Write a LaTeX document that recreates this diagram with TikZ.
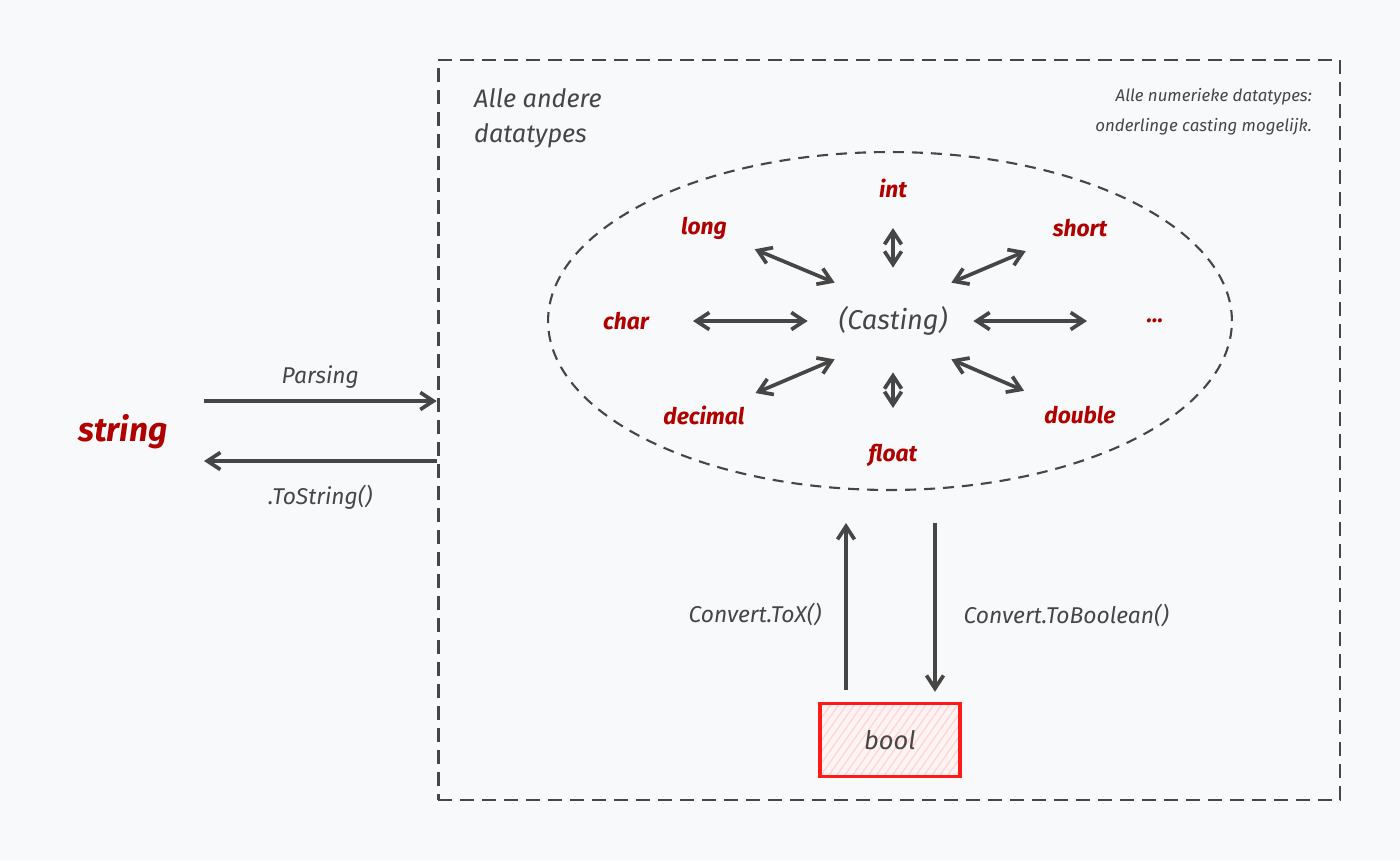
\documentclass[tikz,border=0pt]{standalone}
\usepackage{fontspec}
\setmainfont{Fira Sans}
\usetikzlibrary{arrows.meta,shapes.geometric,patterns.meta}
\definecolor{ink}{HTML}{464646}
\definecolor{typered}{HTML}{B00000}
\definecolor{paper}{HTML}{F8F9FA}
\definecolor{boolred}{HTML}{FF1A1A}
\definecolor{boolfill}{HTML}{FFF3F3}
\definecolor{hatch}{HTML}{FFD6D6}
\tikzset{
  arr/.style={->, ink, line width=2.1pt},
  dbl/.style={<->, ink, line width=2.1pt},
  typelabel/.style={typered, font=\fontsize{13}{16}\selectfont\bfseries\itshape},
  note/.style={text=ink, font=\fontsize{13}{16}\selectfont\itshape},
}

\begin{document}
\begin{tikzpicture}[x=0.02cm, y=-0.02cm, >={Straight Barb[length=2.6mm,width=3.4mm]}]
        \fill[paper] (0,0) rectangle (1400,860);
        \node[draw=ink, line width=1.6pt, dash pattern=on 2.8mm off 1.6mm, minimum width=18.04cm, minimum height=14.8cm] (others) at (889,430) {};
        \node[ellipse, draw=ink, line width=1.2pt, dash pattern=on 2.2mm off 1.6mm, minimum width=13.68cm, minimum height=6.76cm] (numeric) at (890,321) {};
        \node[note, font=\fontsize{14.4}{20}\selectfont\itshape, align=left, anchor=west] (otherslabel) at (468,118) {Alle andere\\datatypes};
        \node[note, font=\fontsize{9.6}{17}\selectfont\itshape, align=right, anchor=east] (numericlabel) at (1318,112) {Alle numerieke datatypes:\\onderlinge casting mogelijk.};
        \node[text=ink, font=\fontsize{15.5}{18}\selectfont\itshape, minimum width=2.32cm, minimum height=1.52cm, inner sep=0] (casting) at (893,321) {(Casting)};
        \node[typelabel] (int) at (893,188) {int};
        \node[typelabel] (long) at (704,228) {long};
        \node[typelabel] (short) at (1080,228) {short};
        \node[typelabel] (char) at (626,321) {char};
        \node[typelabel] (dots) at (1155,321) {...};
        \node[typelabel] (decimal) at (704,415) {decimal};
        \node[typelabel] (double) at (1080,415) {double};
        \node[typelabel] (float) at (893,455) {float};
        \draw[dbl, shorten <=8mm, shorten >=3mm] (int.center) -- (casting.north);
        \draw[dbl, shorten <=11mm] (long.center) -- (casting.north west);
        \draw[dbl, shorten <=11.8mm] (short.center) -- (casting.north east);
        \draw[dbl, shorten <=13.4mm, shorten >=5.4mm] (char.center) -- (casting.west);
        \draw[dbl, shorten <=13.6mm, shorten >=4.4mm] (dots.center) -- (casting.east);
        \draw[dbl, shorten <=11.2mm] (decimal.center) -- (casting.south west);
        \draw[dbl, shorten <=12.2mm] (double.center) -- (casting.south east);
        \draw[dbl, shorten <=9.4mm, shorten >=2.6mm] (float.center) -- (casting.south);
        \node[typered, font=\fontsize{19}{22}\selectfont\bfseries\itshape] (string) at (123,432) {string};
        \coordinate (parseL) at (204,401);
        \coordinate (tostrL) at (204,461);
        \draw[arr] (parseL) -- (parseL -| others.west) node[midway, above=1mm, note] {Parsing};
        \draw[arr] (tostrL -| others.west) -- (tostrL) node[midway, below=3.2mm, note] {.ToString()};
        \node[draw=boolred, line width=1.8pt, preaction={fill=boolfill}, pattern={Lines[angle=55, distance=1.3mm, line width=0.8pt]}, pattern color=hatch, minimum width=2.8cm, minimum height=1.46cm, text=ink, font=\fontsize{14.5}{17}\selectfont\itshape] (bool) at (890,740) {bool};
        \draw[arr] ([shift={(-44,-13)}]bool.north) -- ([shift={(-44,32)}]numeric.south) node[pos=0.45, left=3.4mm, note] {Convert.ToX()};
        \draw[arr] ([shift={(45,32)}]numeric.south) -- ([shift={(45,-11)}]bool.north) node[pos=0.55, right=4.2mm, note] {Convert.ToBoolean()};
\end{tikzpicture}
\end{document}
